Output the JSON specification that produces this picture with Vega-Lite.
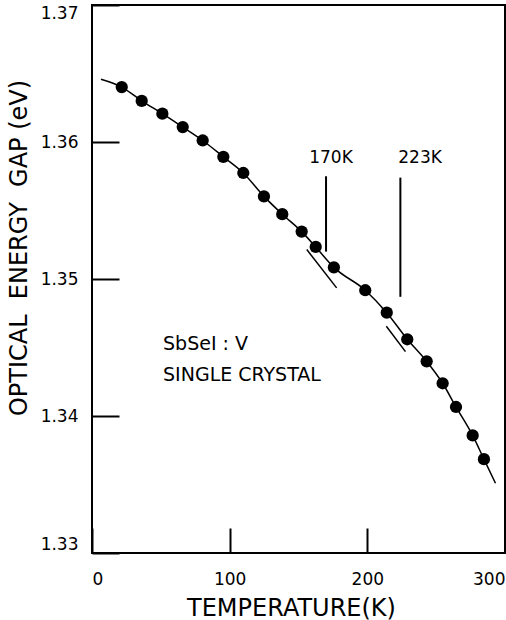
{
  "$schema": "https://vega.github.io/schema/vega-lite/v6.json",
  "width": 413,
  "height": 548,
  "autosize": {"type": "none"},
  "padding": {"left": 92, "top": 5, "right": 1, "bottom": 67},
  "background": "white",
  "config": {
    "view": {"stroke": "black", "strokeWidth": 2},
    "font": "DejaVu Sans",
    "axis": {
      "grid": false,
      "domain": false,
      "tickColor": "black",
      "tickWidth": 2,
      "labelColor": "black",
      "titleColor": "black",
      "labelFont": "DejaVu Sans",
      "titleFont": "DejaVu Sans",
      "labelFontSize": 17,
      "titleFontSize": 24,
      "titleFontWeight": "normal",
      "labelFlush": true
    }
  },
  "datasets": {
    "curve": [
      {"x": 6.5, "y": 1.36458},
      {"x": 21.6, "y": 1.36401},
      {"x": 36.1, "y": 1.363},
      {"x": 51.1, "y": 1.36207},
      {"x": 65.9, "y": 1.36109},
      {"x": 80.4, "y": 1.36011},
      {"x": 95.4, "y": 1.35892},
      {"x": 109.9, "y": 1.35774},
      {"x": 124.9, "y": 1.35603},
      {"x": 138.2, "y": 1.35473},
      {"x": 152.3, "y": 1.35346},
      {"x": 162.5, "y": 1.35234},
      {"x": 175.7, "y": 1.35085},
      {"x": 198.5, "y": 1.34918},
      {"x": 214.1, "y": 1.34754},
      {"x": 229.0, "y": 1.3456},
      {"x": 243.1, "y": 1.34399},
      {"x": 254.7, "y": 1.34239},
      {"x": 264.4, "y": 1.34066},
      {"x": 276.5, "y": 1.33858},
      {"x": 284.7, "y": 1.33685},
      {"x": 293.1, "y": 1.33509}
    ],
    "points": [
      {"x": 21.6, "y": 1.36401},
      {"x": 36.1, "y": 1.363},
      {"x": 51.1, "y": 1.36207},
      {"x": 65.9, "y": 1.36109},
      {"x": 80.4, "y": 1.36011},
      {"x": 95.4, "y": 1.35892},
      {"x": 109.9, "y": 1.35774},
      {"x": 124.9, "y": 1.35603},
      {"x": 138.2, "y": 1.35473},
      {"x": 152.3, "y": 1.35346},
      {"x": 162.5, "y": 1.35234},
      {"x": 175.7, "y": 1.35085},
      {"x": 198.5, "y": 1.34918},
      {"x": 214.1, "y": 1.34754},
      {"x": 229.0, "y": 1.3456},
      {"x": 243.1, "y": 1.34399},
      {"x": 254.7, "y": 1.34239},
      {"x": 264.4, "y": 1.34066},
      {"x": 276.5, "y": 1.33858},
      {"x": 284.7, "y": 1.33685}
    ],
    "kinks": [
      {"x": 156.0, "y": 1.35215, "x2": 177.7, "y2": 1.34935},
      {"x": 213.8, "y": 1.34655, "x2": 227.7, "y2": 1.3447}
    ],
    "markers": [
      {"x": 170, "y": 1.3575, "x2": 170, "y2": 1.352},
      {"x": 224, "y": 1.3574, "x2": 224, "y2": 1.3487}
    ],
    "labels": [
      {"x": 173.6, "y": 1.35881, "label": "170K"},
      {"x": 238.3, "y": 1.35881, "label": "223K"}
    ],
    "notes": [
      {"x": 51.6, "y": 1.34523, "label": "SbSeI : V"},
      {"x": 51.6, "y": 1.34299, "label": "SINGLE CRYSTAL"}
    ]
  },
  "encoding": {
    "x": {
      "field": "x",
      "type": "quantitative",
      "scale": {"domain": [0, 300], "nice": false, "zero": false},
      "axis": {
        "title": "TEMPERATURE(K)",
        "values": [0, 100, 200, 300],
        "format": "d",
        "tickSize": -25,
        "labelPadding": 56,
        "labelBaseline": "alphabetic",
        "titleX": 199,
        "titleY": 62,
        "titleBaseline": "alphabetic"
      }
    },
    "y": {
      "field": "y",
      "type": "quantitative",
      "scale": {"domain": [1.33, 1.37], "nice": false, "zero": false},
      "axis": {
        "title": "OPTICAL\u00a0\u00a0ENERGY\u00a0\u00a0GAP (eV)",
        "values": [1.33, 1.34, 1.35, 1.36, 1.37],
        "format": ".2f",
        "tickSize": -27,
        "labelPadding": 41,
        "titleAngle": -90,
        "titleX": -66,
        "titleY": 242.5,
        "titleBaseline": "alphabetic"
      }
    }
  },
  "layer": [
    {
      "data": {"name": "curve"},
      "mark": {"type": "line", "color": "black", "strokeWidth": 1.5, "interpolate": "monotone"}
    },
    {
      "data": {"name": "kinks"},
      "mark": {"type": "rule", "color": "black", "strokeWidth": 1.5},
      "encoding": {"x2": {"field": "x2"}, "y2": {"field": "y2"}}
    },
    {
      "data": {"name": "markers"},
      "mark": {"type": "rule", "color": "black", "strokeWidth": 2},
      "encoding": {"x2": {"field": "x2"}, "y2": {"field": "y2"}}
    },
    {
      "data": {"name": "points"},
      "mark": {"type": "circle", "color": "black", "opacity": 1, "size": 150}
    },
    {
      "data": {"name": "labels"},
      "mark": {"type": "text", "color": "black", "fontSize": 17, "align": "center", "baseline": "middle", "font": "DejaVu Sans"},
      "encoding": {"text": {"field": "label"}}
    },
    {
      "data": {"name": "notes"},
      "mark": {"type": "text", "color": "black", "fontSize": 19, "align": "left", "baseline": "middle", "font": "DejaVu Sans"},
      "encoding": {"text": {"field": "label"}}
    }
  ]
}
